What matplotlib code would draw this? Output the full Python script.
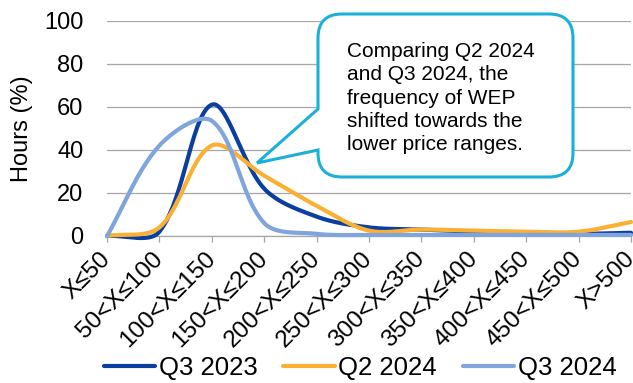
import matplotlib
matplotlib.use("Agg")
import matplotlib.pyplot as plt
import numpy as np
from matplotlib.path import Path
from matplotlib.patches import PathPatch
from matplotlib.transforms import Affine2D, ScaledTranslation

plt.rcParams["font.family"] = ["Liberation Sans", "DejaVu Sans"]

categories = ["X≤50", "50<X≤100", "100<X≤150", "150<X≤200", "200<X≤250",
              "250<X≤300", "300<X≤350", "350<X≤400", "400<X≤450",
              "450<X≤500", "X>500"]
q3_2023 = [0, 2, 61, 22, 9, 4, 3, 2, 1.5, 1, 1.5]
q2_2024 = [0, 4, 42, 28, 14, 2.5, 3, 2.5, 2, 2, 6.5]
q3_2024 = [0, 42, 53.5, 6, 1, 0.5, 0.5, 0.5, 0.5, 0.5, 0.5]

series = [
    ("Q3 2023", q3_2023, "#0A3FA0"),
    ("Q2 2024", q2_2024, "#FBB034"),
    ("Q3 2024", q3_2024, "#7FA5DC"),
]

note = ("Comparing Q2 2024\nand Q3 2024, the\nfrequency of WEP\n"
        "shifted towards the\nlower price ranges.")


def smooth(xs, ys, sx=52.4, sy=2.155, n=30):
    # Bezier smoothing in pixel space, handles scaled by chord lengths
    p = np.column_stack([np.asarray(xs) * sx, np.asarray(ys) * sy]).astype(float)
    p = np.vstack([p[0], p, p[-1]])
    t = np.linspace(0, 1, n)[:, None]
    out = []
    for i in range(1, len(p) - 2):
        p0, p1, p2, p3 = p[i - 1], p[i], p[i + 1], p[i + 2]
        d01 = np.hypot(*(p1 - p0))
        d12 = np.hypot(*(p2 - p1))
        d23 = np.hypot(*(p3 - p2))
        c1 = p1 + (p2 - p0) * d12 / (d01 + d12) / 3
        c2 = p2 - (p3 - p1) * d12 / (d12 + d23) / 3
        seg = ((1 - t) ** 3 * p1 + 3 * (1 - t) ** 2 * t * c1
               + 3 * (1 - t) * t ** 2 * c2 + t ** 3 * p2)
        out.append(seg if i == 1 else seg[1:])
    out = np.vstack(out)
    return out[:, 0] / sx, out[:, 1] / sy


W, H = 633, 383
fig = plt.figure(figsize=(W / 100, H / 100), dpi=100)
ax = fig.add_axes([107 / W, 1 - 236 / H, (631 - 107) / W, (236 - 20.7) / H])

x = np.arange(len(categories))
for name, vals, color in series:
    sx, sy = smooth(x, vals)
    ax.plot(sx, sy, color=color, lw=3, label=name, clip_on=False,
            solid_capstyle="round", zorder=3)

ax.set_xlim(0, len(categories) - 1)
ax.set_ylim(0, 100)
ax.set_yticks(range(0, 101, 20))
ax.grid(axis="y", color="#A6A6A6", lw=0.9)
ax.set_axisbelow(True)
for s in ["left", "right", "top"]:
    ax.spines[s].set_visible(False)
ax.spines["bottom"].set_color("#A6A6A6")
ax.spines["bottom"].set_linewidth(0.9)
ax.tick_params(axis="y", length=0, pad=17, labelsize=17)
ax.tick_params(axis="x", length=4.5, color="#A6A6A6", width=0.9,
               pad=4, labelsize=17.5)
ax.set_xticks(x)
ax.set_xticklabels(categories, rotation=45, ha="right", va="top",
                   rotation_mode="anchor")
shift = ScaledTranslation(-0.075, 0, fig.dpi_scale_trans)
for lab in ax.get_xticklabels():
    lab.set_transform(lab.get_transform() + shift)
ax.set_ylabel("Hours (%)", fontsize=17, labelpad=8)

# callout box with pointer, drawn in pixel coordinates
px = Affine2D().scale(1 / W, -1 / H).translate(0, 1) + fig.transFigure
L, R, T, B, r = 318, 573, 14, 177, 24
verts = [
    (L + r, T), (R - r, T), (R, T), (R, T + r), (R, B - r), (R, B),
    (R - r, B), (L + r, B), (L, B), (L, B - r), (L, 150), (257, 163),
    (L, 109), (L, T + r), (L, T), (L + r, T), (L + r, T),
]
codes = [Path.MOVETO, Path.LINETO, Path.CURVE3, Path.CURVE3, Path.LINETO,
         Path.CURVE3, Path.CURVE3, Path.LINETO, Path.CURVE3, Path.CURVE3,
         Path.LINETO, Path.LINETO, Path.LINETO, Path.LINETO, Path.CURVE3,
         Path.CURVE3, Path.CLOSEPOLY]
fig.patches.append(PathPatch(Path(verts, codes), transform=px,
                             facecolor="white", edgecolor="#1AB0D9",
                             lw=2.2, zorder=5))
fig.text(347 / W, 1 - 98 / H, note, fontsize=15, ha="left", va="center",
         linespacing=1.27, zorder=6)

fig.legend(loc="center", bbox_to_anchor=(0.569, 1 - 368 / H), ncol=3,
           frameon=False, fontsize=18.5, handlelength=2.0, handletextpad=0.15,
           columnspacing=1.0)

fig.savefig("out.png", dpi=100)
